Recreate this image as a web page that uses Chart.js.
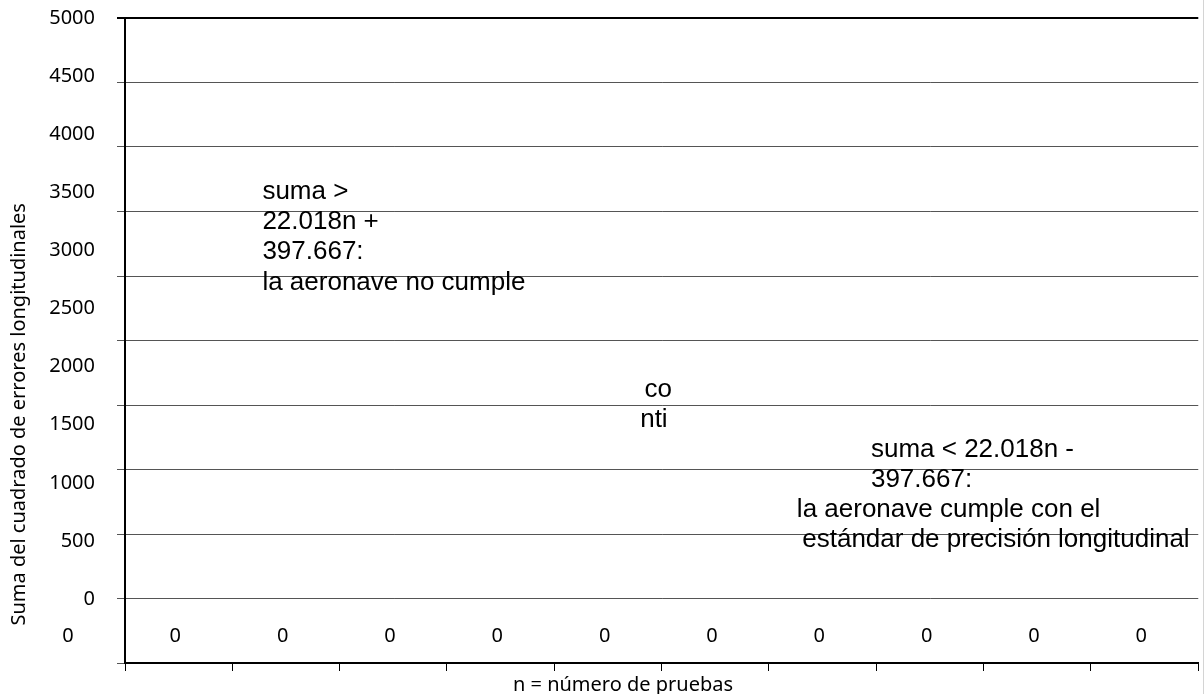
<!DOCTYPE html>
<html>
<head>
<meta charset="utf-8">
<script src="https://cdn.jsdelivr.net/npm/chart.js@4"></script>
<style>
  html, body { margin: 0; padding: 0; background: #fff; }
  #wrap { width: 1204px; height: 694px; position: relative; }
</style>
</head>
<body>
<div id="wrap"><canvas id="chart"></canvas></div>
<script>
// tick labels as printed on the original
const xLabels = ['0', '0', '0', '0', '0', '0', '0', '0', '0', '0', '0'];
const yTickValues = [0, 500, 1000, 1500, 2000, 2500, 3000, 3500, 4000, 4500, 5000];
// the reference shows no plotted points
const seriesValues = [];

const xTitle = 'n = número de pruebas';
const yTitle = 'Suma del cuadrado de errores longitudinales';

// text boxes, anchored in data units (x = trial slot, y = sum)
const notes = [
  { text: 'suma >', x: 1.28, y: 3500 },
  { text: '22.018n +', x: 1.28, y: 3245 },
  { text: '397.667:', x: 1.28, y: 2985 },
  { text: 'la aeronave no cumple', x: 1.28, y: 2720 },
  { text: 'co', x: 4.84, y: 1800 },
  { text: 'nti', x: 4.80, y: 1540 },
  { text: 'suma < 22.018n -', x: 6.95, y: 1280 },
  { text: '397.667:', x: 6.95, y: 1025 },
  { text: 'la aeronave cumple con el', x: 6.26, y: 765 },
  { text: 'estándar de precisión longitudinal', x: 6.31, y: 510 }
];

const yMin = -550;
const yMax = 5000;
const tickFont = { family: 'Noto Sans', size: 20 };

const textPlugin = {
  id: 'textPlugin',
  afterDraw(chart) {
    const { ctx, chartArea, scales } = chart;
    const xs = scales.x, ys = scales.y;
    ctx.save();
    ctx.fillStyle = '#000';
    ctx.textBaseline = 'middle';

    ctx.font = '26px "Liberation Sans", Arial, sans-serif';
    ctx.textAlign = 'left';
    notes.forEach(n => ctx.fillText(n.text, xs.getPixelForValue(n.x), ys.getPixelForValue(n.y)));

    ctx.font = '20px "Noto Sans", sans-serif';
    ctx.textAlign = 'center';
    ctx.fillText(xTitle, xs.getPixelForValue(4.64), chartArea.bottom + 22);

    ctx.save();
    ctx.translate(19, ys.getPixelForValue(1590));
    ctx.rotate(-Math.PI / 2);
    ctx.fillText(yTitle, 0, 0);
    ctx.restore();

    // faint page edge on the right
    ctx.strokeStyle = '#d4d4d4';
    ctx.lineWidth = 1;
    ctx.beginPath();
    ctx.moveTo(chart.width - 0.5, 0);
    ctx.lineTo(chart.width - 0.5, chart.height);
    ctx.stroke();
    ctx.restore();
  }
};

const chart = new Chart(document.getElementById('chart'), {
  type: 'scatter',
  data: {
    datasets: [{
      data: seriesValues,
      xAxisID: 'x',
      yAxisID: 'y',
      showLine: false
    }]
  },
  options: {
    responsive: true,
    maintainAspectRatio: false,
    animation: false,
    layout: { padding: { top: 18, right: 0, left: 0, bottom: 0 } },
    plugins: {
      legend: { display: false },
      tooltip: { enabled: false }
    },
    scales: {
      x: {
        type: 'linear',
        min: 0,
        max: 10,
        afterBuildTicks: s => { s.ticks = xLabels.map((_, i) => ({ value: i })); },
        ticks: {
          autoSkip: false,
          maxRotation: 0,
          mirror: true,          // labels sit inside the plot, above the axis
          labelOffset: -57,
          padding: 0,
          font: { family: 'Noto Sans', size: 20, lineHeight: '54px' },
          color: '#000',
          callback: (v, i) => xLabels[i]
        },
        grid: { drawOnChartArea: false, tickLength: 8, tickColor: '#000', tickWidth: 1 },
        border: { color: '#000', width: 2 },
        afterFit: s => { s.height = 31; }
      },
      yGrid: {
        type: 'linear',
        position: 'left',
        weight: 0,
        min: yMin,
        max: yMax,
        afterBuildTicks: s => {
          s.ticks = Array.from({ length: 11 }, (_, i) => ({ value: yMin + i * (yMax - yMin) / 10 }));
        },
        ticks: { display: false },
        grid: {
          color: c => c.index === 10 ? '#000' : '#555',
          lineWidth: c => c.index === 10 ? 2 : 1,
          tickLength: 8
        },
        border: { color: '#000', width: 2 },
        afterFit: s => { s.width = 30; }
      },
      y: {
        type: 'linear',
        position: 'left',
        weight: 1,
        min: yMin,
        max: yMax,
        afterBuildTicks: s => { s.ticks = yTickValues.map(v => ({ value: v })); },
        ticks: { font: tickFont, color: '#000', padding: 0, callback: v => String(v) },
        grid: { display: false, drawTicks: false },
        border: { display: false },
        afterFit: s => { s.width = 95; }
      }
    }
  },
  plugins: [textPlugin]
});
</script>
</body>
</html>
